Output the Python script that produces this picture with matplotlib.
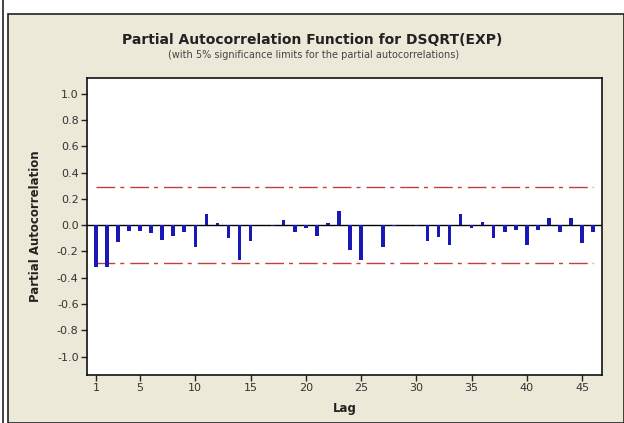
import matplotlib
matplotlib.use("Agg")
import matplotlib.pyplot as plt
from matplotlib.patches import Rectangle
from matplotlib.lines import Line2D
import numpy as np

lags = list(range(1, 47))
pacf = [-0.320, -0.315, -0.125, -0.043, -0.043, -0.056, -0.110, -0.082, -0.055, -0.167,
        0.088, 0.016, -0.096, -0.263, -0.123, 0.004, -0.004, 0.038, -0.053, -0.025,
        -0.080, 0.014, 0.110, -0.192, -0.265, 0.003, -0.166, -0.003, 0.004, -0.004,
        -0.123, -0.093, -0.149, 0.086, -0.022, 0.024, -0.094, -0.053, -0.040, -0.149,
        -0.040, 0.054, -0.053, 0.055, -0.136, -0.053]
sig_limit = 0.2887
xticks = [1, 5, 10, 15, 20, 25, 30, 35, 40, 45]
yticks = [-1.0, -0.8, -0.6, -0.4, -0.2, 0.0, 0.2, 0.4, 0.6, 0.8, 1.0]

W, H = 624, 423
fig = plt.figure(figsize=(W / 100, H / 100), dpi=100)
fig.patch.set_facecolor("white")

beige = "#ece9d8"
# panel background with border
fig.patches.append(Rectangle((8 / W, 0), 1 - 8 / W, 1 - 14 / H, transform=fig.transFigure,
                             facecolor=beige, edgecolor="#222222", linewidth=1.2, zorder=-10))
fig.lines.append(Line2D([2.5 / W, 2.5 / W], [0, 1], transform=fig.transFigure,
                        color="#222222", linewidth=1.2, zorder=-10))

ax = fig.add_axes([87 / W, 1 - 375 / H, (602 - 87) / W, (375 - 78) / H])
ax.set_zorder(5)
ax.set_facecolor("white")

ax.bar(lags, pacf, width=0.32, color="#1818b4", linewidth=0, zorder=3)
ax.axhline(0, color="black", linewidth=1.0, zorder=2)
dash = (13.5, 3.6, 2.9, 4.3)
ax.plot([lags[0], lags[-1]], [sig_limit, sig_limit], color="#c2403c", linewidth=1.0,
        dashes=dash, zorder=2)
ax.plot([lags[0], lags[-1]], [-sig_limit, -sig_limit], color="#c2403c", linewidth=1.0,
        dashes=dash, zorder=2)

ax.set_xlim(0.2, 46.8)
ax.set_ylim(-1.14, 1.12)
ax.set_xticks(xticks)
ax.set_yticks(yticks)
ax.set_yticklabels([f"{v:.1f}" for v in yticks])
ax.tick_params(axis="both", direction="out", length=4, width=1, color="#222222",
               labelsize=8, labelcolor="#333333", pad=2)
for s in ax.spines.values():
    s.set_linewidth(1.2)
    s.set_color("#111111")

ax.set_xlabel("Lag", fontsize=8.5, fontweight="bold", color="#222222", labelpad=6)
ax.set_ylabel("Partial Autocorrelation", fontsize=8.5, fontweight="bold", color="#222222", labelpad=11)

fig.text(312 / W, 1 - 40 / H, "Partial Autocorrelation Function for DSQRT(EXP)",
         ha="center", va="center", fontsize=10, fontweight="bold", color="#222222")
fig.text(314 / W, 1 - 55 / H, "(with 5% significance limits for the partial autocorrelations)",
         ha="center", va="center", fontsize=7, color="#444444")

fig.savefig("out.png", dpi=100, facecolor=fig.get_facecolor())
